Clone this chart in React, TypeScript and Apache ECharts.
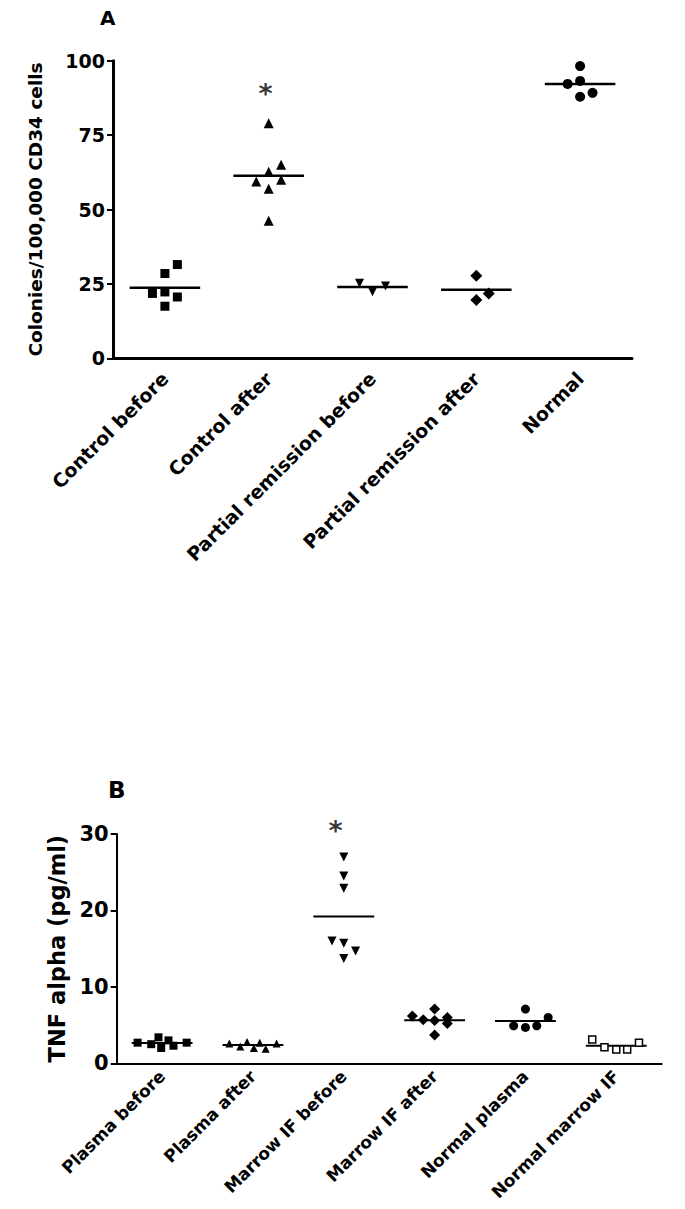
import React, { useEffect, useRef } from "react";
import * as echarts from "echarts";

// ---------- Panel A data ----------
const catsA = ["Control before", "Control after", "Partial remission before", "Partial remission after", "Normal"];
const ctrlBeforeVals = [31.5, 28.5, 21.8, 22.3, 20.6, 17.5];
const ctrlBeforeJit = [0.12, 0, -0.12, 0, 0.12, 0];
const ctrlAfterVals = [79, 65, 62.7, 59.4, 60, 57, 46.2];
const ctrlAfterJit = [0, 0.12, 0, -0.12, 0.12, 0, 0];
const prBeforeVals = [25.2, 22.4, 24.3];
const prBeforeJit = [-0.125, 0, 0.125];
const prAfterVals = [27.7, 21.8, 19.6];
const prAfterJit = [0, 0.12, 0];
const normalVals = [98.2, 92.2, 93.2, 87.9, 89.2];
const normalJit = [0, -0.12, 0, 0, 0.12];
const yTicksA = { min: 0, max: 100, interval: 25 };
const starA = { cat: 1, jit: -0.03, value: 89 };

// ---------- Panel B data ----------
const catsB = ["Plasma before", "Plasma after", "Marrow IF before", "Marrow IF after", "Normal plasma", "Normal marrow IF"];
const plasmaBeforeVals = [2.7, 2.5, 3.4, 2.0, 3.0, 2.3, 2.7];
const plasmaBeforeJit = [-0.27, -0.12, -0.04, -0.01, 0.07, 0.125, 0.27];
const plasmaAfterVals = [2.6, 2.2, 2.8, 2.0, 2.7, 1.9, 2.6];
const plasmaAfterJit = [-0.26, -0.14, -0.065, 0.01, 0.075, 0.14, 0.26];
const marrowBeforeVals = [27.0, 24.5, 22.9, 16.0, 15.7, 14.7, 13.7];
const marrowBeforeJit = [0, 0, 0, -0.13, 0, 0.13, 0];
const marrowAfterVals = [6.2, 7.1, 5.7, 5.6, 6.0, 5.2, 3.7];
const marrowAfterJit = [-0.245, 0, -0.125, 0, 0.14, 0.14, 0];
const normPlasmaVals = [7.1, 4.9, 4.7, 4.9, 6.0];
const normPlasmaJit = [0, -0.13, 0, 0.125, 0.25];
const normMarrowVals = [3.1, 2.1, 1.8, 1.8, 2.7];
const normMarrowJit = [-0.265, -0.13, 0, 0.12, 0.25];
const yTicksB = { min: 0, max: 30, interval: 10 };
const starB = { cat: 2, jit: -0.09, value: 30.4 };

const FONT = "'DejaVu Sans', 'Liberation Sans', sans-serif";

const mean = (a: number[]) => a.reduce((s, v) => s + v, 0) / a.length;
const pts = (cat: number, vals: number[], jit: number[]) => vals.map((v, i) => [cat + jit[i], v]);

export default function App() {
  const ref = useRef<HTMLDivElement>(null);
  useEffect(() => {
    if (!ref.current) return;
    const chart = echarts.init(ref.current, undefined, { renderer: "svg" });

    const groupsA = [
      { vals: ctrlBeforeVals, jit: ctrlBeforeJit, symbol: "rect", size: 9, rot: 0, open: false },
      { vals: ctrlAfterVals, jit: ctrlAfterJit, symbol: "triangle", size: 10, rot: 0, open: false },
      { vals: prBeforeVals, jit: prBeforeJit, symbol: "triangle", size: 9, rot: 180, open: false },
      { vals: prAfterVals, jit: prAfterJit, symbol: "diamond", size: 12, rot: 0, open: false },
      { vals: normalVals, jit: normalJit, symbol: "circle", size: 10, rot: 0, open: false },
    ];
    const groupsB = [
      { vals: plasmaBeforeVals, jit: plasmaBeforeJit, symbol: "rect", size: 8, rot: 0, open: false },
      { vals: plasmaAfterVals, jit: plasmaAfterJit, symbol: "triangle", size: 8, rot: 0, open: false },
      { vals: marrowBeforeVals, jit: marrowBeforeJit, symbol: "triangle", size: 9, rot: 180, open: false },
      { vals: marrowAfterVals, jit: marrowAfterJit, symbol: "diamond", size: 11, rot: 0, open: false },
      { vals: normPlasmaVals, jit: normPlasmaJit, symbol: "circle", size: 9, rot: 0, open: false },
      { vals: normMarrowVals, jit: normMarrowJit, symbol: "rect", size: 7, rot: 0, open: true },
    ];

    const scatterSeries = (groups: any[], xIdx: number, yIdx: number) =>
      groups.map((g, ci) => ({
        type: "scatter",
        xAxisIndex: xIdx,
        yAxisIndex: yIdx,
        symbol: g.symbol,
        symbolSize: g.size,
        symbolRotate: g.rot,
        data: pts(ci, g.vals, g.jit),
        itemStyle: g.open
          ? { color: "#fff", borderColor: "#000", borderWidth: 1.5, opacity: 1 }
          : { color: "#000", opacity: 1 },
        z: 3,
      }));

    const meanSeries = (groups: any[], xIdx: number, yIdx: number, hw: number, lw: number) => ({
      type: "custom",
      xAxisIndex: xIdx,
      yAxisIndex: yIdx,
      data: groups.map((g, ci) => [ci, mean(g.vals)]),
      renderItem: (params: any, api: any) => {
        const c = api.value(0);
        const m = api.value(1);
        const p1 = api.coord([c - hw, m]);
        const p2 = api.coord([c + hw, m]);
        return {
          type: "line",
          shape: { x1: p1[0], y1: p1[1], x2: p2[0], y2: p2[1] },
          style: { stroke: "#000", lineWidth: lw },
        };
      },
      z: 2,
    });

    const starSeries = (s: { cat: number; jit: number; value: number }, xIdx: number, yIdx: number) => ({
      type: "scatter",
      xAxisIndex: xIdx,
      yAxisIndex: yIdx,
      clip: false,
      symbolSize: 1,
      itemStyle: { color: "transparent" },
      data: [[s.cat + s.jit, s.value]],
      label: {
        show: true,
        position: "inside",
        formatter: "*",
        color: "#000",
        fontFamily: FONT,
        fontWeight: "bold",
        fontSize: 27,
      },
    });

    const catAxis = (gridIndex: number, data: string[]) => ({
      type: "category",
      gridIndex,
      data,
      boundaryGap: true,
      axisLine: { show: true, lineStyle: { color: "#000", width: gridIndex === 0 ? 3 : 2 } },
      axisTick: { show: false },
      axisLabel: {
        rotate: 45,
        interval: 0,
        margin: gridIndex === 0 ? 17 : 10,
        color: "#000",
        fontFamily: FONT,
        fontWeight: "bold",
        fontSize: gridIndex === 0 ? 19 : 17,
      },
      splitLine: { show: false },
    });

    const valAxisHidden = (gridIndex: number, n: number) => ({
      type: "value",
      gridIndex,
      min: -0.5,
      max: n - 0.5,
      show: false,
    });

    const yAxis = (gridIndex: number, t: any, name: string, nameGap: number, nameSize: number, labelSize: number) => ({
      type: "value",
      gridIndex,
      min: t.min,
      max: t.max,
      interval: t.interval,
      name,
      nameLocation: "middle",
      nameGap,
      nameTextStyle: { color: "#000", fontFamily: FONT, fontWeight: "bold", fontSize: nameSize },
      axisLine: { show: true, onZero: false, lineStyle: { color: "#000", width: gridIndex === 0 ? 3 : 2 } },
      axisTick: { show: true, length: 6, lineStyle: { color: "#000", width: 2 } },
      axisLabel: { margin: 8, color: "#000", fontFamily: FONT, fontWeight: "bold", fontSize: labelSize },
      splitLine: { show: false },
    });

    chart.setOption({
      animation: false,
      backgroundColor: "#fff",
      grid: [
        { left: 113, top: 60.7, width: 519, height: 297.6, outerBoundsMode: "none", containLabel: false },
        { left: 116.7, top: 834, width: 545, height: 229.3, outerBoundsMode: "none", containLabel: false },
      ],
      xAxis: [catAxis(0, catsA), valAxisHidden(0, catsA.length), catAxis(1, catsB), valAxisHidden(1, catsB.length)],
      yAxis: [
        yAxis(0, yTicksA, "Colonies/100,000 CD34 cells", 68, 18.5, 19),
        yAxis(1, yTicksB, "TNF alpha (pg/ml)", 48, 22.5, 21),
      ],
      graphic: [
        { type: "text", left: 100, top: 8, style: { text: "A", fill: "#000", font: `bold 20px ${FONT}` } },
        { type: "text", left: 108, top: 778, style: { text: "B", fill: "#000", font: `bold 23px ${FONT}` } },
      ],
      series: [
        ...scatterSeries(groupsA, 1, 0),
        meanSeries(groupsA, 1, 0, 0.34, 2.5),
        starSeries(starA, 1, 0),
        ...scatterSeries(groupsB, 3, 1),
        meanSeries(groupsB, 3, 1, 0.335, 2),
        starSeries(starB, 3, 1),
      ],
    });
    return () => chart.dispose();
  }, []);
  return (
    <div
      ref={ref}
      style={{ position: "absolute", left: 0, top: 0, width: 685, height: 1209, background: "#fff" }}
    />
  );
}
